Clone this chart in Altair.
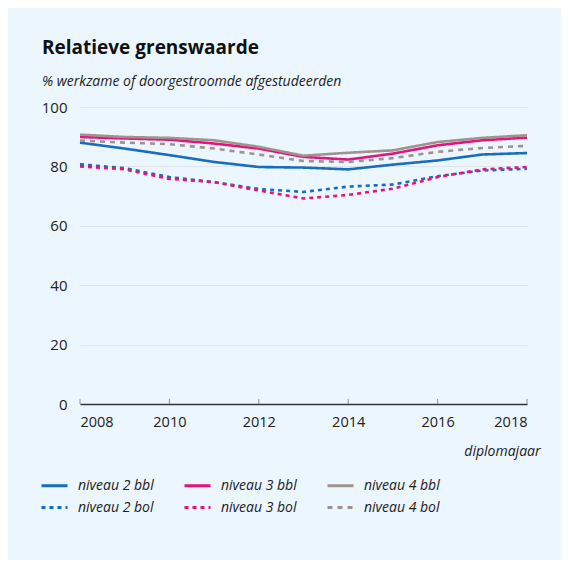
import altair as alt
import pandas as pd

years = list(range(2008, 2019))
n2_bbl = [88.0, 86.0, 83.8, 81.5, 79.8, 79.6, 79.0, 80.6, 82.0, 84.0, 84.5]
n3_bbl = [89.9, 89.4, 89.0, 87.7, 86.0, 83.2, 82.3, 84.3, 87.1, 88.8, 89.7]
n4_bbl = [90.7, 89.9, 89.6, 88.8, 86.6, 83.6, 84.6, 85.4, 88.2, 89.6, 90.5]
n2_bol = [80.7, 79.4, 76.4, 74.7, 72.4, 71.4, 73.2, 73.9, 76.7, 78.6, 79.2]
n3_bol = [80.0, 79.0, 75.8, 74.7, 71.9, 69.2, 70.4, 72.5, 76.4, 79.0, 79.8]
n4_bol = [88.7, 88.0, 87.5, 86.0, 84.0, 81.8, 81.5, 82.8, 84.9, 86.2, 86.9]

# legend fills column by column: order so that rows read 2/3/4 bbl, 2/3/4 bol
series_names = ["niveau 2 bbl", "niveau 2 bol", "niveau 3 bbl",
                "niveau 3 bol", "niveau 4 bbl", "niveau 4 bol"]
series_values = [n2_bbl, n2_bol, n3_bbl, n3_bol, n4_bbl, n4_bol]
tick_years = [2008, 2010, 2012, 2014, 2016, 2018]

rows = []
for name, vals in zip(series_names, series_values):
    for y, v in zip(years, vals):
        rows.append({"jaar": y, "waarde": v, "reeks": name})
df = pd.DataFrame(rows)
ticks_df = pd.DataFrame({"jaar": tick_years, "lo": [0] * len(tick_years), "hi": [1.7] * len(tick_years)})

FONT = "Open Sans"
blue = "#1a6dbb"
pink = "#e4147a"
grey = "#a0928e"

xscale = alt.Scale(domain=[2008, 2018], nice=False, zero=False)
yscale = alt.Scale(domain=[0, 100], nice=False)

legend = alt.Legend(title=None, orient="none", legendX=-40, legendY=364,
                    columns=3, symbolType="stroke", symbolSize=676,
                    symbolStrokeWidth=2.8, labelFont=FONT,
                    labelFontStyle="italic", labelFontSize=14,
                    labelColor="#222", labelOffset=9,
                    columnPadding=24, rowPadding=-12)

lines = alt.Chart(df).mark_line(strokeWidth=2.6, strokeJoin="round").encode(
    x=alt.X("jaar:Q", scale=xscale,
            axis=alt.Axis(values=tick_years, format="d", title="diplomajaar",
                          ticks=False, labelPadding=11, labelFontSize=14.5,
                          labelColor="#222", labelFont=FONT, grid=False,
                          domainColor="#333", domainWidth=1.6,
                          titleFont=FONT, titleFontStyle="italic", titleFontWeight="normal",
                          titleFontSize=14, titleColor="#222",
                          titleAnchor="end", titleAlign="right", titleX=460, titleY=51,
                          titleBaseline="alphabetic")),
    y=alt.Y("waarde:Q", scale=yscale,
            axis=alt.Axis(values=[0, 20, 40, 60, 80, 100], title=None, domain=False,
                          ticks=False, labelPadding=13, labelFontSize=15,
                          labelColor="#222", labelFont=FONT,
                          gridColor="#dde4ea", gridWidth=1)),
    color=alt.Color("reeks:N",
                    scale=alt.Scale(domain=series_names,
                                    range=[blue, blue, pink, pink, grey, grey]),
                    sort=series_names, legend=legend),
    strokeDash=alt.StrokeDash("reeks:N",
                              scale=alt.Scale(domain=series_names,
                                              range=[[1, 0], [4, 4], [1, 0], [4, 4], [1, 0], [5, 5]]),
                              sort=series_names, legend=legend),
    detail="reeks:N",
)

tick_rules = alt.Chart(ticks_df).mark_rule(color="#8a8f94", strokeWidth=1).encode(
    x=alt.X("jaar:Q", scale=xscale),
    y=alt.Y("lo:Q", scale=yscale),
    y2="hi:Q",
)

chart = alt.layer(lines, tick_rules).properties(
    width=447,
    height=297,
    background="#ecf6fe",
    padding={"left": 72, "top": 99, "right": 34, "bottom": 156},
    autosize=alt.AutoSizeParams(type="none"),
    title=alt.TitleParams(
        text="Relatieve grenswaarde",
        subtitle="% werkzame of doorgestroomde afgestudeerden",
        anchor="start", frame="group", dx=-38, offset=11,
        font=FONT, fontSize=19, fontWeight="bold", color="#111",
        subtitleFont=FONT, subtitleFontSize=14, subtitleFontStyle="italic",
        subtitleColor="#222", subtitlePadding=17,
    ),
).configure_view(stroke=None)

chart.save("out.html", embed_options={"renderer": "svg", "actions": False})
